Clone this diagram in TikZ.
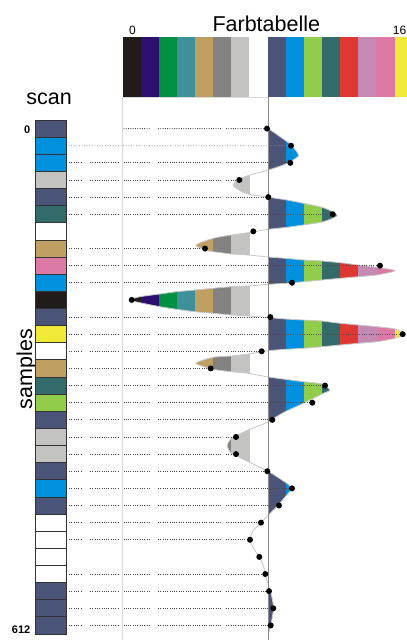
\documentclass[tikz,border=0pt]{standalone}
\usepackage{fontspec}
\setmainfont{Liberation Sans}
\definecolor{c0}{RGB}{33,28,25}
\definecolor{c1}{RGB}{44,15,110}
\definecolor{c2}{RGB}{0,145,68}
\definecolor{c3}{RGB}{64,144,155}
\definecolor{c4}{RGB}{192,160,98}
\definecolor{c5}{RGB}{132,130,129}
\definecolor{c6}{RGB}{195,195,194}
\definecolor{c7}{RGB}{255,255,255}
\definecolor{c8}{RGB}{74,83,120}
\definecolor{c9}{RGB}{0,144,222}
\definecolor{c10}{RGB}{145,204,75}
\definecolor{c11}{RGB}{51,107,107}
\definecolor{c12}{RGB}{222,56,50}
\definecolor{c13}{RGB}{197,138,180}
\definecolor{c14}{RGB}{220,121,165}
\definecolor{c15}{RGB}{240,233,55}
\definecolor{axisgray}{RGB}{138,138,138}
\definecolor{paleline}{RGB}{218,218,218}
\definecolor{edgegray}{RGB}{200,200,200}
\begin{document}
\begin{tikzpicture}[x=1pt,y=-1pt,
  swatch/.style={rectangle,inner sep=0pt,minimum width=18.4pt,minimum height=59.4pt,draw=none},
  sbox/.style={rectangle,inner sep=0pt,minimum width=31pt,minimum height=17.133pt,draw=black!80,line width=0.8pt},
  dotmark/.style={circle,fill=black,inner sep=0pt,minimum size=6pt},
  dotline/.style={draw=black!70,line width=0.9pt,dash pattern=on 0.9pt off 1.4pt},
  dotlineB/.style={draw=black!45,line width=0.9pt,dash pattern=on 0.9pt off 1.7pt},
  lobeedge/.style={draw=edgegray,line width=0.8pt},
  bigtext/.style={font=\fontsize{21.5}{24}\selectfont,inner sep=0pt},
  smalltext/.style={font=\fontsize{12}{14}\selectfont,inner sep=0pt},
  rowlabel/.style={font=\fontsize{11}{13}\selectfont\bfseries,inner sep=0pt}]
\useasboundingbox (0,0) rectangle (407,640);
\clip (0,0) rectangle (407,640);
\fill[white] (0,0) rectangle (407,640);

% titles
\node[bigtext,anchor=base] (title) at (266.3,31.5) {Farbtabelle};
\node[bigtext,anchor=base] (scan) at (49.2,104) {scan};
\node[bigtext,rotate=90,anchor=center] (samples) at (26.5,369) {samples};
\node[smalltext,anchor=base] (zero) at (132.5,34) {0};
\node[smalltext,anchor=base east] (sixteen) at (406.5,34) {16};
\node[rowlabel,anchor=base east] (first) at (30.5,133) {0};
\node[rowlabel,anchor=base east] (last) at (30.5,633) {612};

% colour table
\foreach \k in {0,...,15}
  \node[swatch,fill=c\k] (t\k) at ({122.7+(\k+0.5)*18.13},67) {};
\draw[paleline,line width=1pt] (122.7,97.2) -- (268.3,97.2);

% sample column
\foreach \i/\c in {1/c8,2/c9,3/c9,4/c6,5/c8,6/c11,7/c7,8/c4,9/c14,10/c9,
                   11/c0,12/c8,13/c15,14/c7,15/c4,16/c11,17/c10,18/c8,19/c6,20/c6,
                   21/c8,22/c9,23/c8,24/c7,25/c7,26/c7,27/c7,28/c8,29/c8,30/c8}
  \node[sbox,fill=\c] (s\i) at (50.5,{120+(\i-0.5)*17.133}) {};

% lobes
\def\lobepts{(268.3,128.6) (280,136.7) (290,144) (296.7,151.7) (298.5,156) (293.3,159.8) (283.3,165) (268.3,170)
(250,175) (238.3,179.5) (233.3,185.5) (241.7,191.7) (250,194.5) (268.3,197.2)
(286.7,200) (303.3,203.3) (321.7,207.3) (332.7,211.7) (337,216) (323.3,221.7) (303.3,225) (286.7,227.3) (268.3,229.3)
(248.3,232.7) (231.7,235) (213.3,238.3) (196,245) (205,250) (213.3,251.7) (231.7,254) (248.3,255) (268.3,257)
(285,258.3) (303.3,260) (321.7,261) (340,262.7) (358.3,265) (376.7,267.3) (395,270.7) (376.7,275) (358.3,276.7) (340,278.3) (321.7,280) (303.3,281.7) (285,283.3) (268.3,284.3)
(248.3,286) (231.7,286.7) (213.3,288.3) (195,290) (176.7,291.7) (160,294) (140,296.7) (130,300) (140,302.7) (160,306.7) (176.7,309.3) (195,311.7) (213.3,313.3) (231.7,315) (248.3,316) (268.3,317.5)
(285,319) (303.3,320) (321.7,321) (340,323.3) (358.3,325) (376.7,326.7) (395,329) (405,334) (395,338.3) (376.7,341.7) (358.3,343.3) (340,345) (321.7,346.7) (303.3,348.3) (285,349.3) (268.3,350.7)
(248.3,354) (231.7,356) (213.3,357.3) (196,363.3) (213.3,369.3) (231.7,371.7) (248.3,373.3) (268.3,377)
(285,379.3) (303.3,381.7) (321.7,384) (330,390) (323.3,393.3) (303.3,403.3) (285,411.7) (273.3,418.5) (268.3,422)
(248.3,430) (231.7,438.3) (227.3,445.7) (231.7,453.3) (248.3,461.7) (268.3,471.4)
(276.7,476.7) (286.7,483.3) (292,488.5) (286.7,495) (276.7,506.7) (268.3,515)
(261,522.8) (253,531) (250,540) (254,549) (259.3,557) (263.5,566) (265.3,574.2) (268.3,585) (270.5,592) (272.5,600) (273.5,608.5) (272.3,617) (270.7,625.5) (268.3,634)}
\edef\lobeclip{\noexpand\clip plot[smooth,tension=0.4] coordinates {\lobepts} -- (268.3,128.6) -- cycle;}
\edef\lobeline{\noexpand\draw[lobeedge] plot[smooth,tension=0.4] coordinates {\lobepts};}
\begin{scope}
  \lobeclip
  \foreach \k in {0,...,15}
    \fill[c\k] ({122.7+\k*18.13},97) rectangle ({122.7+(\k+1)*18.13+0.3},640);
\end{scope}
\lobeline

% guide lines
\draw[paleline,line width=1.3pt] (122.7,97.2) -- (122.7,640);

% data points
\foreach \i/\x in {1/267,2/291,3/290.3,4/239.3,5/268.3,6/332.7,7/253.3,8/205,9/380,10/292,
                   11/131.7,12/270.3,13/402.7,14/261.7,15/210.7,16/325,17/312.3,18/272.3,19/236,20/236,
                   21/267.3,22/292,23/279,24/261,25/250,26/259.3,27/265.3,28/269,29/273.3,30/270.7}
  \coordinate (p\i) at (\x,{120+(\i-0.5)*17.133});

% dotted sample lines
\foreach \i in {3,4,5,6,9,10,12,13,14,16,17,18,19,20,21,22,23,24,25,27,28,29,30}
  \draw[dotline] (69,{120+(\i-0.5)*17.133}) -- (82,{120+(\i-0.5)*17.133})
                 (90,{120+(\i-0.5)*17.133}) -- (118,{120+(\i-0.5)*17.133})
                 (123.5,{120+(\i-0.5)*17.133}) -- (150,{120+(\i-0.5)*17.133})
                 (158,{120+(\i-0.5)*17.133}) -- (222,{120+(\i-0.5)*17.133})
                 (226,{120+(\i-0.5)*17.133}) -- (p\i);
\foreach \i in {8,15}
  \draw[dotline] (69,{120+(\i-0.5)*17.133}) -- (82,{120+(\i-0.5)*17.133})
                 (90,{120+(\i-0.5)*17.133}) -- (118,{120+(\i-0.5)*17.133})
                 (123.5,{120+(\i-0.5)*17.133}) -- (150,{120+(\i-0.5)*17.133})
                 (158,{120+(\i-0.5)*17.133}) -- (p\i);
\draw[dotline] (123.5,128.57) -- (150,128.57) (158,128.57) -- (222,128.57) (226,128.57) -- (p1);
\draw[dotlineB] (68.5,145.70) -- (p2);

% axis
\draw[axisgray,line width=1.3pt] (268.3,97.2) -- (268.3,640);

% dots
\foreach \i in {1,...,30}
  \node[dotmark] (d\i) at (p\i) {};
\end{tikzpicture}
\end{document}
